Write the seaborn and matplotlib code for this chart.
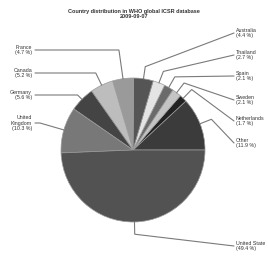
import numpy as np
import matplotlib
matplotlib.use('Agg')
import matplotlib.pyplot as plt
import seaborn as sns

countries = ['Other', 'Netherlands', 'Sweden', 'Spain', 'Thailand', 'Australia',
             'France', 'Canada', 'Germany', 'United\nKingdom', 'United State']
shares = [11.9, 1.7, 2.1, 2.1, 2.7, 4.4, 4.7, 5.2, 5.6, 10.3, 49.4]

colors = ['#3b3b3b', '#222222', '#c4c4c4', '#6a6a6a', '#e4e4e4', '#555555',
          '#9a9a9a', '#bdbdbd', '#444444', '#787878', '#525252']

# label anchor positions (data coords == pixels, y up)
label_pos = {
    'Other': (236, 119), 'Netherlands': (236, 141), 'Sweden': (236, 162),
    'Spain': (236, 186), 'Thailand': (236, 207), 'Australia': (236, 229),
    'France': (32, 212), 'Canada': (32, 189), 'Germany': (32, 167),
    'United\nKingdom': (32, 139), 'United State': (236, 16),
}

sns.set_style('white')
plt.rcParams['font.family'] = ['Liberation Sans', 'DejaVu Sans']

fig = plt.figure(figsize=(2.68, 2.62), dpi=100)
ax = fig.add_axes([0, 0, 1, 1])
ax.set_xlim(0, 268)
ax.set_ylim(0, 262)
ax.set_aspect('equal')
ax.axis('off')

cx, cy, r = 133, 112, 72
wedges, _ = ax.pie(shares, colors=colors, startangle=0, counterclock=True,
                   center=(cx, cy), radius=r, frame=True,
                   wedgeprops=dict(edgecolor='#9a9a9a', linewidth=0.5))
ax.set_xlim(0, 268)
ax.set_ylim(0, 262)
ax.axis('off')

for w, name, val in zip(wedges, countries, shares):
    ang = np.deg2rad((w.theta1 + w.theta2) / 2)
    lx, ly = label_pos[name]
    px, py = cx + r * np.cos(ang), cy + r * np.sin(ang)
    if lx < cx:
        R = (ly - cy) / np.sin(ang) if abs(np.sin(ang)) > 0.2 else r * 1.18
        R = max(R, r * 1.08)
        ha, tx = 'right', lx + 3
    else:
        R = r * 1.17
        ha, tx = 'left', lx - 2
    ex, ey = cx + R * np.cos(ang), cy + R * np.sin(ang)
    ax.plot([px, ex, tx], [py, ey, ly], color='#7a7a7a', lw=0.8,
            solid_joinstyle='miter')
    ax.text(lx, ly, f'{name}\n({val} %)', ha=ha, va='center', fontsize=3.8,
            color='#333333', linespacing=1.2)

ax.text(134, 248, 'Country distribution in WHO global ICSR database\n2009-09-07',
        ha='center', va='center', fontsize=4, fontweight='bold',
        color='#333333', linespacing=1.1)

fig.savefig('out.png', dpi=100)
